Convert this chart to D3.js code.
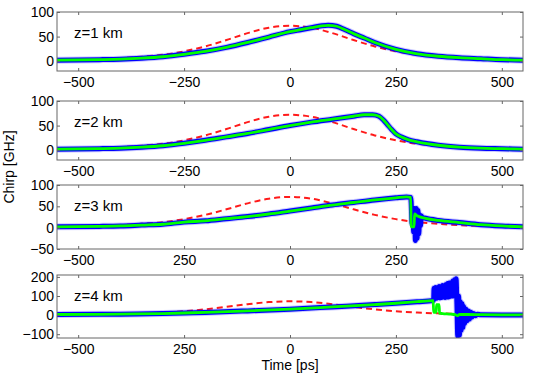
<!DOCTYPE html>
<html>
<head>
<meta charset="utf-8">
<script src="https://cdn.jsdelivr.net/npm/d3@7"></script>
<style>
  body { margin: 0; background: #fff; }
  svg { display: block; font-family: "Liberation Sans", Arial, sans-serif; }
  .tick text { font-size: 14px; fill: #000; }
  .tick line { stroke: #666; }
</style>
</head>
<body>
<svg width="545" height="374"></svg>
<script>
// axis setup
var xTicks = [-500, -250, 0, 250, 500];
var xTickLabels = [
  ["\u2212500", "\u2212250", "0", "250", "500"],
  ["\u2212500", "\u2212250", "0", "250", "500"],
  ["\u2212500", "250", "0", "250", "500"],
  ["\u2212500", "250", "0", "250", "500"]
];
var yTicks = [[0, 50, 100], [0, 50, 100], [-50, 0, 50, 100], [-100, 0, 100, 200]];
var yDomains = [[-20, 100], [-20, 100], [-50, 100], [-120, 210]];
var panelNames = ["z=1 km", "z=2 km", "z=3 km", "z=4 km"];

// input pulse chirp (red dashed), same in every panel
var inputT     = [-550,-500,-450,-400,-350,-300,-250,-200,-150,-100,-50,0,50,100,150,200,250,300,350,400,450,500,550];
var inputChirp = [2,3,4,6,9,13,20,30,43,57,68,72,68,57,43,30,20,13,9,6,4,3,2];

// z = 1 km
var z1T     = [-550,-450,-400,-350,-300,-250,-200,-150,-100,-50,0,25,50,75,90,110,130,150,175,200,250,300,350,400,450,500,550];
var z1Chirp = [2,3,4,6,9,14,20,28,38,49,60,64,68,72,73,71,64,56,47,38,24,15,10,7,5,3,2];

// z = 2 km
var z2T     = [-550,-450,-400,-350,-300,-250,-200,-150,-100,-50,0,50,100,150,175,195,210,220,230,240,250,265,280,300,350,400,450,500,550];
var z2Chirp = [2,3,4,6,9,14,20,27,34,42,50,57,63,69,72,72,69,62,52,42,33,26,21,17,10,6,4,3,2];

// z = 3 km, green = smooth model, blue = full simulation
var z3T       = [-550,-450,-400,-350,-300,-250,-200,-150,-100,-50,0,50,100,150,200,250,275,285,286,293,294,300,320,350,400,450,500,550];
var z3Green   = [2,3,4,6,8,13,16,21,26,32,39,46,53,59,65,70,72,71,2,2,32,28,22,17,12,7,4,2];
var z3BurstT  = [286,288,290,292,294,296,298,300,302,304,306,308,310,312];
var z3Burst   = [60,10,40,-10,45,-30,45,-25,40,-15,30,5,28,24];

// z = 4 km
var z4T       = [-550,-400,-300,-250,-200,-100,0,100,200,250,300,338,339,345,346,352,353,360,380,390,395,400,420,450,500,550];
var z4Green   = [3,5,8,11,14,22,31,43,55,62,70,76,15,15,55,55,10,8,5,2,-3,3,3,2,1,1];
var z4BurstT  = [339,340,342,344,346,348,350,352,354,356,358,360,362,364,366,368,370,372,374,376,378,380,382,384,386,388,390,392,394,396,398,400,402,404,406,408,410,412,415,418,421,424,427,430,434,438,442,450];
var z4Burst   = [80,140,90,145,88,140,92,150,90,150,92,155,95,155,92,160,95,165,95,168,98,170,100,178,100,185,105,190,60,-110,100,-105,70,-80,60,-65,45,-45,32,-30,22,-20,15,-10,8,-4,4,2];

function pts(t, v) { return t.map(function(d, i) { return [d, v[i]]; }); }
function withBurst(t, v, bt, bv) {
  var lo = bt[0], hi = bt[bt.length - 1];
  var base = pts(t, v).filter(function(p) { return p[0] < lo || p[0] > hi; });
  return base.concat(pts(bt, bv)).sort(function(a, b) { return a[0] - b[0]; });
}

var panels = [
  { green: pts(z1T, z1Chirp), blue: pts(z1T, z1Chirp) },
  { green: pts(z2T, z2Chirp), blue: pts(z2T, z2Chirp) },
  { green: pts(z3T, z3Green), blue: withBurst(z3T, z3Green, z3BurstT, z3Burst) },
  { green: pts(z4T, z4Green), blue: withBurst(z4T, z4Green, z4BurstT, z4Burst) }
];
var input = pts(inputT, inputChirp);

var svg = d3.select("svg");
var left = 57, right = 523;
var tops = [12, 101, 185, 275],
    bottoms = [71, 160, 249, 338];

var x = d3.scaleLinear().domain([-550, 550]).range([left, right]);

panels.forEach(function(p, i) {
  var y = d3.scaleLinear().domain(yDomains[i]).range([bottoms[i], tops[i]]);
  var g = svg.append("g");

  g.append("clipPath").attr("id", "clip" + i)
    .append("rect")
      .attr("x", left).attr("y", tops[i])
      .attr("width", right - left).attr("height", bottoms[i] - tops[i]);

  var line = d3.line()
        .x(function(d) { return x(d[0]); })
        .y(function(d) { return y(d[1]); })
        .curve(d3.curveMonotoneX);

  var plot = g.append("g").attr("clip-path", "url(#clip" + i + ")");

  plot.append("path").datum(input)
    .attr("d", line).attr("fill", "none")
    .attr("stroke", "#ff1a1a").attr("stroke-width", 2)
    .attr("stroke-dasharray", "6,4");

  plot.append("path").datum(p.blue)
    .attr("d", line).attr("fill", "none")
    .attr("stroke", "#0000ff").attr("stroke-opacity", 0.2)
    .attr("stroke-width", 7).attr("stroke-linejoin", "round");

  plot.append("path").datum(p.blue)
    .attr("d", line).attr("fill", "none")
    .attr("stroke", "#0000ff").attr("stroke-width", 5)
    .attr("stroke-linejoin", "round");

  plot.append("path").datum(p.green)
    .attr("d", line).attr("fill", "none")
    .attr("stroke", "#00ff00").attr("stroke-width", 2.8)
    .attr("stroke-linejoin", "round");

  // frame and inward ticks on all four sides
  g.append("g").attr("transform", "translate(0," + bottoms[i] + ")")
    .call(d3.axisBottom(x).tickValues(xTicks).tickSize(-3).tickPadding(6)
      .tickFormat(function(d, k) { return xTickLabels[i][k]; }));
  g.append("g").attr("transform", "translate(0," + tops[i] + ")")
    .call(d3.axisTop(x).tickValues(xTicks).tickSize(-3).tickFormat(""));
  g.append("g").attr("transform", "translate(" + left + ",0)")
    .call(d3.axisLeft(y).tickValues(yTicks[i]).tickSize(-3).tickPadding(3));
  g.append("g").attr("transform", "translate(" + right + ",0)")
    .call(d3.axisRight(y).tickValues(yTicks[i]).tickSize(-3).tickFormat(""));
  g.selectAll(".domain").remove();

  g.append("rect")
    .attr("x", left).attr("y", tops[i])
    .attr("width", right - left).attr("height", bottoms[i] - tops[i])
    .attr("fill", "none").attr("stroke", "#666").attr("stroke-width", 1);

  g.append("text")
    .attr("x", 74).attr("y", tops[i] + 26)
    .attr("font-size", 15)
    .text(panelNames[i]);
});

svg.append("text")
  .attr("transform", "translate(14,167) rotate(-90)")
  .attr("text-anchor", "middle")
  .attr("font-size", 14)
  .text("Chirp [GHz]");

svg.append("text")
  .attr("x", (left + right) / 2).attr("y", 370)
  .attr("text-anchor", "middle")
  .attr("font-size", 14)
  .text("Time [ps]");
</script>
</body>
</html>
